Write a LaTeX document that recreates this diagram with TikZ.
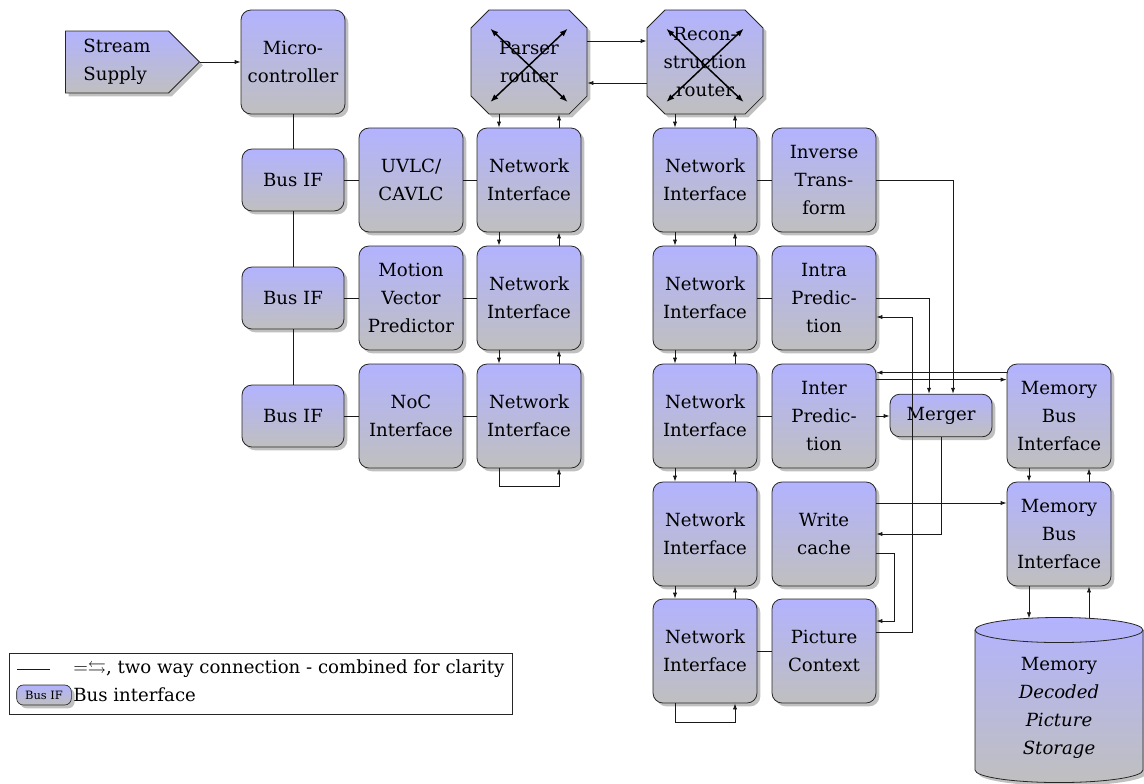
\documentclass[tikz,border=0pt]{standalone}
\usepackage{amssymb}
\usepackage{fontspec}
\setmainfont{DejaVu Serif}
\usetikzlibrary{shapes.misc,shapes.symbols,shadows,arrows.meta,calc}
\newcommand\blockfont{\fontsize{13.6}{21}\selectfont}
\newcommand\tagfont{\fontsize{8.6}{10}\selectfont}
\tikzset{
  bluegrey/.style={top color=blue!30, bottom color=black!25},
  softshadow/.style={drop shadow={shadow xshift=2.5pt, shadow yshift=-2.5pt, fill=black!45, opacity=0.55}},
  block/.style={rectangle, rounded corners=7.5pt, draw=black!85, line width=0.6pt,
    bluegrey, softshadow, align=center, inner sep=1pt,
    minimum width=78pt, minimum height=78pt, font=\blockfont},
  busif/.style={block, minimum width=76.5pt, minimum height=46.5pt},
  mergebox/.style={block, minimum width=76.5pt, minimum height=32pt},
  router/.style={chamfered rectangle, chamfered rectangle xsep=10pt,
    draw=black!85, line width=0.6pt, bluegrey, softshadow, align=center,
    inner sep=1pt, minimum width=87pt, minimum height=78pt, font=\blockfont},
  signalbox/.style={signal, signal to=east, draw=black!85, line width=0.6pt,
    bluegrey, softshadow, align=left, minimum height=46.5pt, inner xsep=13.5pt,
    inner ysep=1pt, font=\blockfont},
  tagbox/.style={rectangle, rounded corners=5pt, draw=black!85, line width=0.5pt,
    bluegrey, drop shadow={shadow xshift=2.5pt, shadow yshift=-2.5pt, fill=black!45, opacity=0.55},
    inner sep=1.5pt, minimum width=41pt, minimum height=15pt, font=\tagfont},
  conn/.style={line width=0.6pt, draw=black!90},
  arr/.style={conn, -{Latex[length=4.5pt,width=3.2pt]}},
  xarr/.style={line width=1.1pt, draw=black,
    {Latex[length=6pt,width=4.5pt]}-{Latex[length=6pt,width=4.5pt]}},
  legtext/.style={anchor=west, inner sep=0pt, font=\blockfont}
}
\begin{document}
\begin{tikzpicture}[x=0.75pt, y=-0.75pt]
\useasboundingbox (0,0) rectangle (1144,783);

% memory cylinder
\path[bluegrey, draw=black!85, line width=0.6pt, softshadow]
  (975,630) -- (975,770) arc[start angle=180, end angle=360, x radius=63pt, y radius=9.4pt]
  -- (1143,630) arc[start angle=0, end angle=180, x radius=63pt, y radius=9.4pt] -- cycle;
\draw[line width=0.6pt, draw=black!85]
  (975,630) arc[start angle=180, end angle=360, x radius=63pt, y radius=9.4pt];
\node[align=center, font=\blockfont] (memory) at (1059,708)
  {Memory\\\textit{Decoded}\\\textit{Picture}\\\textit{Storage}};
\coordinate (memL) at (1029,618.3);
\coordinate (memR) at (1089,618.3);

% control side
\node[signalbox, anchor=west] (stream) at (65,62) {Stream\\Supply};
\node[block] (micro) at (293,62) {Micro-\\controller};
\node[busif] (busA) at (293,180) {Bus IF};
\node[busif] (busB) at (293,298) {Bus IF};
\node[busif] (busC) at (293,416) {Bus IF};
\node[block] (uvlc) at (411,180) {UVLC/\\CAVLC};
\node[block] (mvp) at (411,298) {Motion\\Vector\\Predictor};
\node[block] (noc) at (411,416) {NoC\\Interface};

% parser network
\node[router] (prouter) at (529,62) {Parser\\router};
\node[block] (niP1) at (529,180) {Network\\Interface};
\node[block] (niP2) at (529,298) {Network\\Interface};
\node[block] (niP3) at (529,416) {Network\\Interface};

% reconstruction network
\node[router] (rrouter) at (705,62) {Recon-\\struction\\router};
\node[block] (niR1) at (705,180) {Network\\Interface};
\node[block] (niR2) at (705,298) {Network\\Interface};
\node[block] (niR3) at (705,416) {Network\\Interface};
\node[block] (niR4) at (705,534) {Network\\Interface};
\node[block] (niR5) at (705,651) {Network\\Interface};

\node[block] (itrans) at (824,180) {Inverse\\Trans-\\form};
\node[block] (intra) at (824,298) {Intra\\Predic-\\tion};
\node[block] (inter) at (824,416) {Inter\\Predic-\\tion};
\node[block] (wcache) at (824,534) {Write\\cache};
\node[block] (pctx) at (824,651) {Picture\\Context};
\node[mergebox] (merger) at (941,415.5) {Merger};
\node[block] (mbiA) at (1059,416) {Memory\\Bus\\Interface};
\node[block] (mbiB) at (1059,534) {Memory\\Bus\\Interface};

% plain links
\draw[arr] (stream.east) -- (micro.west);
\draw[conn] (micro) -- (busA);
\draw[conn] (busA) -- (busB);
\draw[conn] (busB) -- (busC);
\draw[conn] (busA) -- (uvlc);
\draw[conn] (uvlc) -- (niP1);
\draw[conn] (busB) -- (mvp);
\draw[conn] (mvp) -- (niP2);
\draw[conn] (busC) -- (noc);
\draw[conn] (noc) -- (niP3);
\draw[conn] (niR1) -- (itrans);
\draw[conn] (niR2) -- (intra);
\draw[conn] (niR3) -- (inter);
\draw[conn] (niR5) -- (pctx);

% paired vertical links
\foreach \a/\b in {prouter/niP1, niP1/niP2, niP2/niP3,
                   rrouter/niR1, niR1/niR2, niR2/niR3, niR3/niR4, niR4/niR5,
                   mbiA/mbiB} {
  \draw[arr] ([xshift=-22.5pt]\a.south) -- ([xshift=-22.5pt]\b.north);
  \draw[arr] ([xshift=22.5pt]\b.north) -- ([xshift=22.5pt]\a.south);
}
\draw[arr] ([xshift=-22.5pt]niP3.south) -- ++(0,18) -| ([xshift=22.5pt]niP3.south);
\draw[arr] ([xshift=-22.5pt]niR5.south) -- ++(0,19) -| ([xshift=22.5pt]niR5.south);

% router crossbars
\foreach \r in {prouter, rrouter} {
  \draw[xarr] ([shift={(-29pt,25pt)}]\r.center) -- ([shift={(29pt,-30pt)}]\r.center);
  \draw[xarr] ([shift={(29pt,25pt)}]\r.center) -- ([shift={(-29pt,-30pt)}]\r.center);
}
\draw[arr] ([yshift=15.75pt]prouter.east) -- ([yshift=15.75pt]rrouter.west);
\draw[arr] ([yshift=-15.75pt]rrouter.west) -- ([yshift=-15.75pt]prouter.east);

% reconstruction data paths
\draw[arr] (itrans.east) -| ([xshift=9pt]merger.north);
\draw[arr] (intra.east) -| ([xshift=-9pt]merger.north);
\draw[arr] (inter.east) -- (inter.east -| merger.west);
\draw[arr] ([yshift=-6.75pt]mbiA.north west) -- ([yshift=-6.75pt]inter.north east);
\draw[arr] ([yshift=-12pt]inter.north east) -- ([yshift=-12pt]mbiA.north west);
\draw[arr] (merger.south) |- (wcache.east);
\draw[arr] ([yshift=23.25pt]wcache.east) -- ([yshift=23.25pt]mbiB.west);
\draw[arr] ([yshift=-14.25pt]wcache.east) -- ++(18,0) |- ([yshift=22.5pt]pctx.east);
\draw[arr] ([yshift=14.25pt]pctx.east) -- ++(36,0) |- ([yshift=-14.25pt]intra.east);
\draw[arr] ([xshift=-22.5pt]mbiB.south) -- (memL);
\draw[arr] (memR) -- ([xshift=22.5pt]mbiB.south);

% legend
\node[draw=black!85, line width=0.6pt, anchor=north west, minimum width=377.25pt,
  minimum height=45.75pt, inner sep=0pt] (legend) at (9,653) {};
\coordinate (legA) at (17,669);
\coordinate (legB) at (50,669);
\draw[conn] (legA) -- (legB);
\node[legtext] (legline) at (73,669) {$=\leftrightarrows$, two way connection - combined for clarity};
\node[tagbox] (legtag) at (44,695) {Bus IF};
\node[legtext] (legbus) at (73,695) {Bus interface};
\end{tikzpicture}
\end{document}
